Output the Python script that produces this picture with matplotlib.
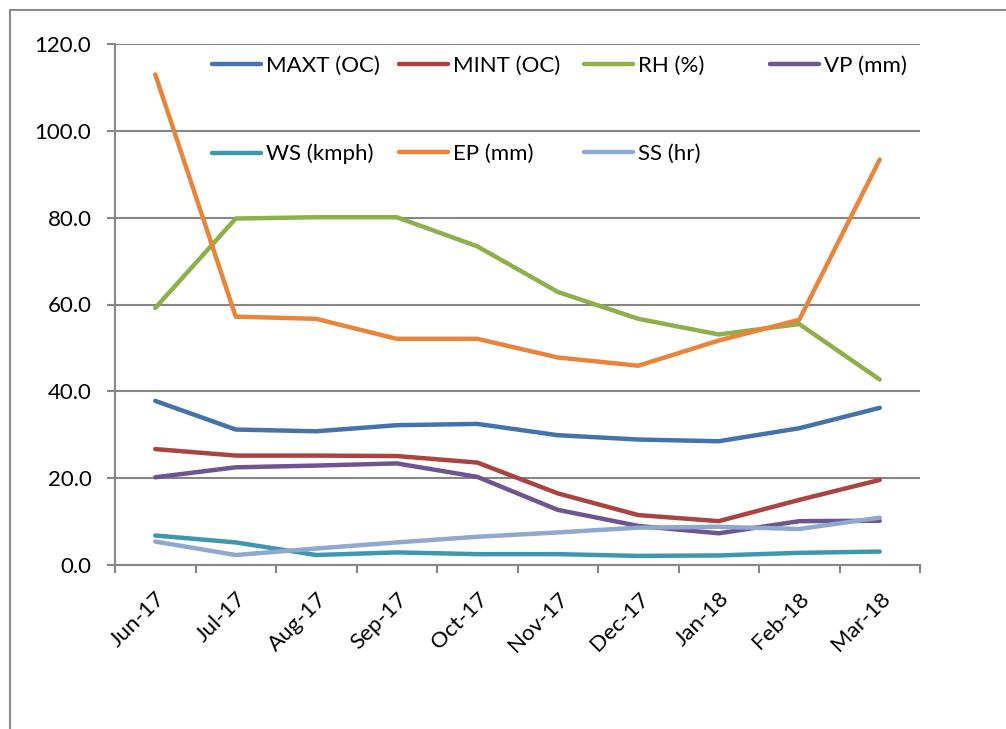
import matplotlib
matplotlib.use("Agg")
import matplotlib.pyplot as plt
from matplotlib.lines import Line2D
from matplotlib.legend import Legend

months = ["Jun-17", "Jul-17", "Aug-17", "Sep-17", "Oct-17", "Nov-17",
          "Dec-17", "Jan-18", "Feb-18", "Mar-18"]
maxt = [37.8, 31.2, 30.8, 32.2, 32.5, 29.9, 28.9, 28.5, 31.5, 36.2]
mint = [26.7, 25.2, 25.2, 25.1, 23.6, 16.5, 11.5, 10.1, 15.0, 19.6]
rh = [59.2, 79.8, 80.1, 80.1, 73.4, 62.9, 56.7, 53.1, 55.5, 42.7]
vp = [20.2, 22.5, 22.9, 23.4, 20.3, 12.7, 9.0, 7.3, 10.1, 10.2]
ws = [6.8, 5.2, 2.3, 2.9, 2.5, 2.5, 2.1, 2.2, 2.8, 3.1]
ep = [113.0, 57.2, 56.7, 52.1, 52.1, 47.8, 45.9, 51.7, 56.5, 93.4]
ss = [5.4, 2.3, 3.8, 5.2, 6.5, 7.5, 8.6, 8.8, 8.3, 10.9]

series_names = ["MAXT (OC)", "MINT (OC)", "RH (%)", "VP (mm)",
                "WS (kmph)", "EP (mm)", "SS (hr)"]
series_vals = [maxt, mint, rh, vp, ws, ep, ss]
colors = ["#4472AA", "#AA4440", "#8DB04A", "#6E5490",
          "#3E97AE", "#E8853A", "#8FA8CF"]
y_ticks = [0, 20, 40, 60, 80, 100, 120]

plt.rcParams['font.family'] = ['Lato', 'DejaVu Sans']
fs = 16
grey = "#868686"

fig = plt.figure(figsize=(10.06, 7.29), dpi=100)
ax = fig.add_axes([115/1006, 1-565/729, 805/1006, 521/729])

x = list(range(len(months)))
handles = {}
for name, vals, c in zip(series_names, series_vals, colors):
    ln, = ax.plot(x, vals, color=c, lw=3.2, solid_capstyle='round',
                  solid_joinstyle='round', label=name)
    handles[name] = ln

ax.set_xlim(-0.5, len(months) - 0.5)
ax.set_ylim(0, 120)
ax.set_yticks(y_ticks)
ax.set_yticklabels([f"{v:.1f}" for v in y_ticks], fontsize=fs)
ax.yaxis.grid(True, color=grey, lw=1.5)
ax.set_axisbelow(True)

ax.set_xticks(x)
ax.set_xticklabels(months, fontsize=fs, rotation=45, ha='right',
                   rotation_mode='anchor')
ax.set_xticks([i - 0.5 for i in range(len(months) + 1)], minor=True)
ax.tick_params(axis='x', which='major', length=0, pad=17)
ax.tick_params(axis='x', which='minor', length=6, width=1.5, color=grey, direction='out')
ax.tick_params(axis='y', length=6, width=1.5, color=grey, direction='out', pad=11)

for s in ['top', 'right']:
    ax.spines[s].set_visible(False)
for s in ['left', 'bottom']:
    ax.spines[s].set_color(grey)
    ax.spines[s].set_linewidth(1.5)

# Legend: 4 columns with equal spacing, two rows
cols = [["MAXT (OC)", "WS (kmph)"], ["MINT (OC)", "EP (mm)"],
        ["RH (%)", "SS (hr)"], ["VP (mm)"]]
col_x = [212, 399, 584, 770]
for cx, names in zip(col_x, cols):
    leg = Legend(ax, [handles[n] for n in names], names, loc='upper left',
                 bbox_to_anchor=((cx - 115) / 805, (565 - 56) / 521),
                 frameon=False, fontsize=fs, handlelength=2.2,
                 handletextpad=0.25, labelspacing=3.05, borderpad=0,
                 borderaxespad=0)
    ax.add_artist(leg)

# outer chart border
fig.add_artist(Line2D([10/1006, 10/1006], [0, 1-10/729], color="#8c8c8c", lw=1.5))
fig.add_artist(Line2D([10/1006, 1], [1-10/729, 1-10/729], color="#8c8c8c", lw=1.5))

fig.savefig("out.png", dpi=100)
